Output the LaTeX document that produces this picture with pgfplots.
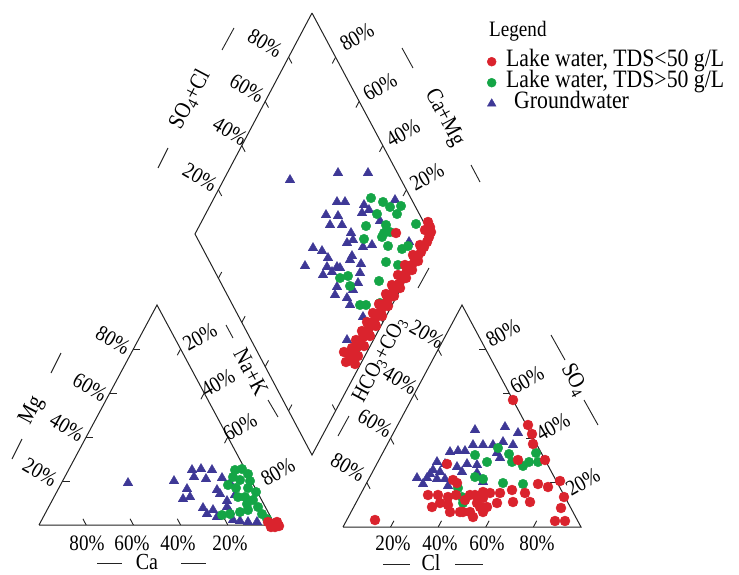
\documentclass[border=0pt]{standalone}
\usepackage{pgfplots}
\pgfplotsset{compat=1.18}
\usepackage{graphicx}
\usepackage{fontspec}
\setmainfont{Liberation Serif}
\newcommand{\sx}[1]{\scalebox{0.87}[1]{#1}}
\definecolor{ptred}{RGB}{218,35,45}
\definecolor{ptgreen}{RGB}{20,165,70}
\definecolor{ptblue}{RGB}{62,56,150}
\definecolor{ln}{RGB}{35,35,35}
\begin{document}
\begin{tikzpicture}
\begin{axis}[name=ax, width=739pt, height=575pt, scale only axis,
  xmin=0, xmax=739, ymin=0, ymax=575, y dir=reverse, hide axis, clip=false,
  legend style={at={(axis cs:487,52)}, anchor=north west, draw=none, fill=none,
    font=\fontsize{25}{25}\selectfont, row sep=2pt, inner sep=0pt,
    nodes={text height=13pt, text depth=4pt, inner sep=1pt}},
  legend cell align=left]
\addlegendimage{only marks, mark=*, mark size=4.5pt, mark options={draw=ptred, fill=ptred}}
\addlegendentry{\hspace{9pt}\sx{Lake water, TDS<50 g/L}}
\addlegendimage{only marks, mark=*, mark size=4.5pt, mark options={draw=ptgreen, fill=ptgreen}}
\addlegendentry{\hspace{9pt}\sx{Lake water, TDS>50 g/L}}
\addlegendimage{only marks, mark=triangle*, mark size=5pt, mark options={draw=ptblue, fill=ptblue}}
\addlegendentry{\hspace{17pt}\sx{Groundwater}}
% frames
\addplot[forget plot, ln, line width=1pt, mark=none] coordinates {(39,525)(275,525)(157,305)(39,525)};
\addplot[forget plot, ln, line width=1pt, mark=none] coordinates {(343,527)(581,527)(462,305)(343,527)};
\addplot[forget plot, ln, line width=1pt, mark=none] coordinates {(312,13)(430,234)(312,455)(195,234)(312,13)};
% ticks
\begin{scope}[ln, line width=0.9pt]
\draw (axis cs:86.2,525)--(axis cs:82.9,518.8); \draw (axis cs:133.4,525)--(axis cs:130.1,518.8);
\draw (axis cs:180.6,525)--(axis cs:177.3,518.8); \draw (axis cs:227.8,525)--(axis cs:224.5,518.8);
\draw (axis cs:62.6,481)--(axis cs:69.6,481); \draw (axis cs:86.2,437)--(axis cs:93.2,437);
\draw (axis cs:109.8,393)--(axis cs:116.8,393); \draw (axis cs:133.4,349)--(axis cs:140.4,349);
\draw (axis cs:180.6,349)--(axis cs:177.3,355.2); \draw (axis cs:204.2,393)--(axis cs:200.9,399.2);
\draw (axis cs:227.8,437)--(axis cs:224.5,443.2); \draw (axis cs:251.4,481)--(axis cs:248.1,487.2);
\draw (axis cs:390.6,527)--(axis cs:393.9,520.8); \draw (axis cs:438.2,527)--(axis cs:441.5,520.8);
\draw (axis cs:485.8,527)--(axis cs:489.1,520.8); \draw (axis cs:533.4,527)--(axis cs:536.7,520.8);
\draw (axis cs:366.8,482.6)--(axis cs:370.1,488.8); \draw (axis cs:390.6,438.2)--(axis cs:393.9,444.4);
\draw (axis cs:414.4,393.8)--(axis cs:417.7,400); \draw (axis cs:438.2,349.4)--(axis cs:441.5,355.6);
\draw (axis cs:485.8,349.4)--(axis cs:478.8,349.4); \draw (axis cs:509.6,393.8)--(axis cs:502.6,393.8);
\draw (axis cs:533.4,438.2)--(axis cs:526.4,438.2); \draw (axis cs:557.2,482.6)--(axis cs:550.2,482.6);
\draw (axis cs:218.4,189.8)--(axis cs:221.7,196); \draw (axis cs:241.8,145.6)--(axis cs:245.1,151.8);
\draw (axis cs:265.2,101.4)--(axis cs:268.5,107.6); \draw (axis cs:288.6,57.2)--(axis cs:291.9,63.4);
\draw (axis cs:406.4,189.8)--(axis cs:403.1,196); \draw (axis cs:382.8,145.6)--(axis cs:379.5,151.8);
\draw (axis cs:359.2,101.4)--(axis cs:355.9,107.6); \draw (axis cs:335.6,57.2)--(axis cs:332.3,63.4);
\draw (axis cs:218.4,278.2)--(axis cs:221.7,272); \draw (axis cs:241.8,322.4)--(axis cs:245.1,316.2);
\draw (axis cs:265.2,366.6)--(axis cs:268.5,360.4); \draw (axis cs:288.6,410.8)--(axis cs:291.9,404.6);
\draw (axis cs:406.4,278.2)--(axis cs:403.1,272); \draw (axis cs:382.8,322.4)--(axis cs:379.5,316.2);
\draw (axis cs:359.2,366.6)--(axis cs:355.9,360.4); \draw (axis cs:335.6,410.8)--(axis cs:332.3,404.6);
% title dashes
\draw (axis cs:158,168)--(axis cs:168,148); \draw (axis cs:222,50)--(axis cs:234,28);
\draw (axis cs:12,459)--(axis cs:22,439); \draw (axis cs:51,373)--(axis cs:61,353);
\draw (axis cs:226,325)--(axis cs:233,338); \draw (axis cs:268,400)--(axis cs:278,417);
\draw (axis cs:402,48)--(axis cs:413,68); \draw (axis cs:471,165)--(axis cs:480,182);
\draw (axis cs:338,436)--(axis cs:349,416); \draw (axis cs:418,288)--(axis cs:429,268);
\draw (axis cs:551,335)--(axis cs:565,360); \draw (axis cs:584,400)--(axis cs:598,425);
\draw (axis cs:97,563)--(axis cs:122,563); \draw (axis cs:181,563)--(axis cs:206,563);
\draw (axis cs:383,564)--(axis cs:410,564); \draw (axis cs:455,564)--(axis cs:483,564);
\end{scope}
% percent labels
\begin{scope}[every node/.style={font=\fontsize{22}{22}\selectfont, inner sep=0pt}]
\node[rotate=-30] at (axis cs:40,472) {\sx{20\%}}; \node[rotate=-30] at (axis cs:67,427) {\sx{40\%}};
\node[rotate=-30] at (axis cs:90,387) {\sx{60\%}}; \node[rotate=-30] at (axis cs:113,340) {\sx{80\%}};
\node[rotate=30] at (axis cs:200,337) {\sx{20\%}}; \node[rotate=30] at (axis cs:218,383) {\sx{40\%}};
\node[rotate=30] at (axis cs:240,427) {\sx{60\%}}; \node[rotate=30] at (axis cs:278,472) {\sx{80\%}};
\node at (axis cs:87,543) {\sx{80\%}}; \node at (axis cs:132,543) {\sx{60\%}};
\node at (axis cs:178,543) {\sx{40\%}}; \node at (axis cs:230,543) {\sx{20\%}};
\node[rotate=-30] at (axis cs:427,334) {\sx{20\%}}; \node[rotate=-30] at (axis cs:400,380) {\sx{40\%}};
\node[rotate=-30] at (axis cs:375,423) {\sx{60\%}}; \node[rotate=-30] at (axis cs:348,467) {\sx{80\%}};
\node[rotate=30] at (axis cs:503,333) {\sx{80\%}}; \node[rotate=30] at (axis cs:527,380) {\sx{60\%}};
\node[rotate=30] at (axis cs:553,427) {\sx{40\%}}; \node[rotate=30] at (axis cs:583,482) {\sx{20\%}};
\node at (axis cs:393,543) {\sx{20\%}}; \node at (axis cs:440,543) {\sx{40\%}};
\node at (axis cs:487,543) {\sx{60\%}}; \node at (axis cs:537,543) {\sx{80\%}};
\node[rotate=-30] at (axis cs:200,177) {\sx{20\%}}; \node[rotate=-30] at (axis cs:230,131) {\sx{40\%}};
\node[rotate=-30] at (axis cs:247,88) {\sx{60\%}}; \node[rotate=-30] at (axis cs:265,43) {\sx{80\%}};
\node[rotate=30] at (axis cs:357,37) {\sx{80\%}}; \node[rotate=30] at (axis cs:380,87) {\sx{60\%}};
\node[rotate=30] at (axis cs:403,133) {\sx{40\%}}; \node[rotate=30] at (axis cs:427,177) {\sx{20\%}};
\end{scope}
% axis titles
\begin{scope}[every node/.style={font=\fontsize{23}{23}\selectfont, inner sep=0pt}]
\node[rotate=62] at (axis cs:190,100) {\sx{SO\textsubscript{4}+Cl}};
\node[rotate=62] at (axis cs:32,411) {\sx{Mg}};
\node[rotate=-62] at (axis cs:251,372) {\sx{Na+K}};
\node[rotate=-62] at (axis cs:444,118) {\sx{Ca+Mg}};
\node[rotate=62, font=\fontsize{22}{22}\selectfont] at (axis cs:380,360) {\sx{HCO\textsubscript{3}+CO\textsubscript{3}}};
\node[rotate=-62] at (axis cs:574,380) {\sx{SO\textsubscript{4}}};
\node at (axis cs:147,562) {\sx{Ca}};
\node at (axis cs:431,563) {\sx{Cl}};
\node[anchor=west, font=\fontsize{22}{22}\selectfont] at (axis cs:489,31) {\sx{Legend}};
\end{scope}
% Groundwater
\addplot[forget plot, only marks, mark=triangle*, mark size=5.5pt, mark options={draw=ptblue, fill=ptblue}] coordinates {
(290,180)(338,173)(368,173)(337,202)(345,202)(364,205)(369,210)(395,200)(326,215)(338,216)
(330,225)(342,225)(362,213)(380,221)(351,233)(347,243)(353,240)(363,247)(372,245)(313,248)
(322,251)(328,258)(352,256)(350,260)(305,266)(327,267)(337,267)(332,272)(361,264)(323,275)
(360,273)(358,283)(335,295)(347,298)(350,305)(363,317)(347,340)(409,242)(337,287)(353,290)(340,268)
(128,483)(174,481)(192,470)(201,469)(212,470)(194,477)(206,479)(222,478)(187,489)(183,499)
(190,497)(217,490)(220,494)(203,508)(213,510)(207,514)(227,501)(227,507)(230,512)(233,520)
(240,521)(248,522)(257,522)(217,517)(230,483)(235,495)
(475,430)(505,427)(518,433)(473,445)(483,445)(493,445)(503,442)(513,445)(450,452)(458,451)
(465,451)(497,453)(437,462)(445,464)(457,467)(467,464)(477,465)(433,470)(440,472)(417,478)
(427,478)(437,479)(445,479)(462,472)(448,486)(483,482)(500,458)(477,473)(423,484)(430,474)
};
% Lake water TDS>50
\addplot[forget plot, only marks, mark=*, mark size=4.8pt, mark options={draw=ptgreen, fill=ptgreen}] coordinates {
(371,198)(383,202)(390,207)(401,206)(377,214)(397,214)(366,226)(386,225)(390,232)(416,224)
(364,239)(382,237)(388,246)(402,249)(408,246)(386,262)(398,265)(379,281)(340,278)(348,276)
(350,286)(360,305)(366,305)(380,303)(368,330)(355,352)(384,233)
(235,470)(242,469)(248,474)(233,477)(240,480)(250,481)(228,485)(236,488)(248,488)(245,497)
(253,500)(258,507)(262,514)(267,519)(222,515)(230,514)(240,512)(248,510)(247,504)(256,492)(238,497)
(475,455)(487,462)(498,448)(509,454)(512,462)(523,466)(529,462)(536,453)(538,462)(475,477)
(503,483)(523,484)(458,488)(462,497)(463,503)(483,479)
};
% Lake water TDS<50
\addplot[forget plot, only marks, mark=*, mark size=5pt, mark options={draw=ptred, fill=ptred}] coordinates {
(428,222)(430,227)(431,232)(429,237)(427,242)(424,247)(421,252)(418,256)(415,260)(412,265)
(409,269)(406,273)(402,279)(399,284)(396,288)(393,292)(390,297)(387,301)(384,306)(381,310)
(378,315)(375,319)(372,324)(369,328)(366,333)(363,337)(360,342)(357,347)(354,351)(352,356)
(350,360)(420,245)(413,255)(405,265)(398,275)(392,285)(386,294)(379,304)(373,313)(367,322)
(362,331)(356,340)(352,348)(348,353)(396,233)(425,230)(346,362)(355,364)(344,352)(358,356)
(364,346)(370,336)(376,326)(382,316)(388,306)(394,296)(400,288)(406,278)(412,270)(418,261)
(268,522)(273,524)(277,522)(275,527)(271,527)(279,526)
(513,400)(528,425)(532,434)(533,444)(518,460)(545,460)(447,464)(560,481)(538,484)(548,487)
(564,497)(561,508)(555,521)(565,521)(375,520)(453,480)(438,495)(432,507)(440,503)(448,497)
(448,505)(450,512)(460,512)(470,512)(480,507)(483,498)(475,495)(428,495)(463,512)(473,517)
(483,512)(487,507)(477,503)(470,495)(483,492)(500,493)(512,490)(525,493)(513,502)(530,502)
(457,483)(490,493)(497,503)(465,500)(456,495)
};
\end{axis}
\pgfresetboundingbox
\path (ax.south west) rectangle (ax.north east);
\end{tikzpicture}
\end{document}
